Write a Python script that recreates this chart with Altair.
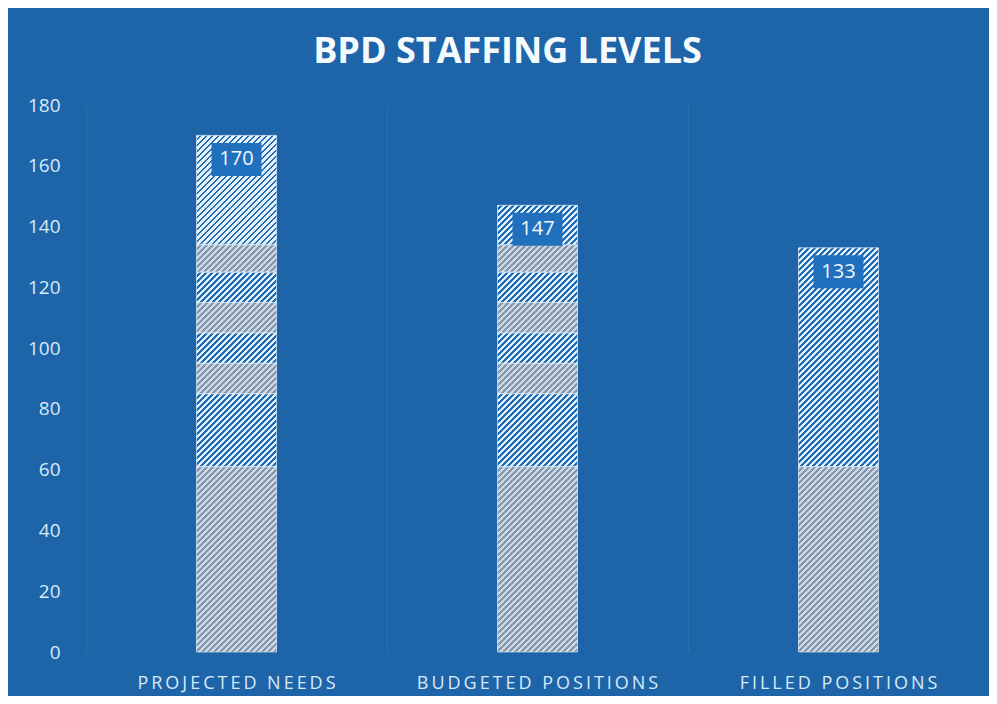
import math
import altair as alt
import pandas as pd

# ---------------- data ----------------
categories = ["PROJECTED NEEDS", "BUDGETED POSITIONS", "FILLED POSITIONS"]
totals = [170, 147, 133]
projected_segments = [61, 24, 10, 10, 10, 10, 9, 36]
budgeted_segments = [61, 24, 10, 10, 10, 10, 9, 13]
filled_segments = [61, 72]
y_ticks = [0, 20, 40, 60, 80, 100, 120, 140, 160, 180]
title_text = "BPD STAFFING LEVELS"

# ---------------- style ----------------
PLOT_W, PLOT_H = 903, 547
Y_MAX = 180
PX_PER_UNIT = PLOT_H / Y_MAX
BAR_W = 80
PERIOD = 6.0          # stripe period along x (px)
CHUNK_PX = 36.0       # hatch drawn in pieces (multiple of PERIOD keeps stripes continuous)
BG = "#1e64a9"
HATCH_LIGHT, HATCH_DARK = "#e4f1fa", "#1d6bb7"
GRAY_LIGHT, GRAY_DARK = "#cdd9e6", "#8497ac"
HATCH_AVG, GRAY_AVG = "#83b0d9", "#a9b8c9"
LABEL_BG = "#2170bd"
TEXT_COLOR = "#d8eaf7"
FONT = "Open Sans"
BOX_PATH = "M-1,-0.66L1,-0.66L1,0.66L-1,0.66Z"


def hatch(h_px, light, dark):
    """Diagonal '/' stripes built as a hard-stop linear gradient."""
    w = float(BAR_W)
    s = w + h_px
    a = w * s / (w * w + h_px * h_px)
    b = h_px * s / (w * w + h_px * h_px)
    stops = []
    n = int(math.ceil(s / PERIOD))
    for i in range(n):
        t0 = round(min(i * PERIOD / s, 1), 5)
        tm = round(min((i + 0.52) * PERIOD / s, 1), 5)
        t1 = round(min((i + 1) * PERIOD / s, 1), 5)
        stops += [
            alt.GradientStop(offset=t0, color=light),
            alt.GradientStop(offset=tm, color=light),
            alt.GradientStop(offset=tm, color=dark),
            alt.GradientStop(offset=t1, color=dark),
        ]
    return alt.LinearGradient(gradient="linear", stops=stops, x1=0, y1=0, x2=a, y2=b)


x_enc = alt.X(
    "category:N",
    sort=categories,
    scale=alt.Scale(domain=categories, paddingInner=0, paddingOuter=0),
    axis=alt.Axis(
        title=None,
        labelAngle=0,
        domain=False,
        ticks=False,
        grid=True,
        bandPosition=0,
        gridColor="#4a88c6",
        gridOpacity=0.35,
        labelPadding=22,
        labelLimit=0,
        labelFont=FONT,
        labelFontSize=18,
        labelColor=TEXT_COLOR,
        labelExpr="join(split(datum.label, ''), '\u2009')",
    ),
)


def y_enc(field):
    return alt.Y(
        field,
        scale=alt.Scale(domain=[0, Y_MAX], nice=False),
        axis=alt.Axis(
            title=None,
            values=y_ticks,
            domain=False,
            ticks=False,
            grid=False,
            labelPadding=26,
            labelFont=FONT,
            labelFontSize=19,
            labelColor=TEXT_COLOR,
        ),
    )


# segments table built from the arrays
seg_rows = []
for cat, segs in zip(categories, [projected_segments, budgeted_segments, filled_segments]):
    y0 = 0
    for idx, v in enumerate(segs):
        seg_rows.append({"category": cat, "y0": y0, "y1": y0 + v,
                         "kind": "gray" if idx % 2 == 0 else "hatch"})
        y0 += v
seg_df = pd.DataFrame(seg_rows)

# hatch pieces, cut from the top of each segment; equal-height pieces share a gradient
chunk_u = CHUNK_PX / PX_PER_UNIT
groups = {}
for r in seg_rows:
    top = r["y1"]
    while top > r["y0"] + 1e-9:
        bot = max(r["y0"], top - chunk_u)
        key = (round((top - bot) * PX_PER_UNIT, 3), r["kind"])
        groups.setdefault(key, []).append({"category": r["category"], "y0": bot, "y1": top})
        top = bot

layers = [
    # solid base in the average stripe colour, hides seams between pieces
    alt.Chart(seg_df)
    .mark_bar(width=BAR_W, strokeWidth=0)
    .encode(
        x=x_enc, y=y_enc("y0:Q"), y2="y1:Q",
        color=alt.Color("kind:N", scale=alt.Scale(domain=["gray", "hatch"], range=[GRAY_AVG, HATCH_AVG]),
                        legend=None),
    )
]
for (h_px, kind), rows in groups.items():
    grad = hatch(h_px, GRAY_LIGHT, GRAY_DARK) if kind == "gray" else hatch(h_px, HATCH_LIGHT, HATCH_DARK)
    layers.append(
        alt.Chart(pd.DataFrame(rows))
        .mark_bar(width=BAR_W, fill=grad, strokeWidth=0)
        .encode(x=x_enc, y=y_enc("y0:Q"), y2="y1:Q")
    )

# thin light separators between the segments
layers.append(
    alt.Chart(seg_df)
    .mark_bar(width=BAR_W, fillOpacity=0, stroke="#dceaf6", strokeWidth=0.8, strokeOpacity=0.8)
    .encode(x=x_enc, y=y_enc("y0:Q"), y2="y1:Q")
)

tot_df = pd.DataFrame({"category": categories, "total": totals})
layers.append(
    alt.Chart(tot_df)
    .mark_point(shape=BOX_PATH, size=2500, filled=True, fill=LABEL_BG, opacity=1,
                strokeWidth=0, yOffset=24)
    .encode(x=x_enc, y=y_enc("total:Q"))
)
layers.append(
    alt.Chart(tot_df)
    .mark_text(dy=24, baseline="middle", align="center", font=FONT, fontSize=20, color="#f0f7fc")
    .encode(x=x_enc, y=y_enc("total:Q"), text="total:Q")
)

chart = (
    alt.layer(*layers)
    .properties(
        width=PLOT_W,
        height=PLOT_H,
        padding={"left": 78, "top": 97, "right": 0, "bottom": 44},
        autosize=alt.AutoSizeParams(type="none"),
        title=alt.TitleParams(
            title_text,
            font=FONT,
            fontSize=36,
            fontWeight="bold",
            color="#f5fafd",
            anchor="middle",
            dx=-30,
            offset=25,
        ),
    )
    .configure(background=BG)
    .configure_view(stroke=None)
)

chart.save("out.html", embed_options={"renderer": "svg", "actions": False})
